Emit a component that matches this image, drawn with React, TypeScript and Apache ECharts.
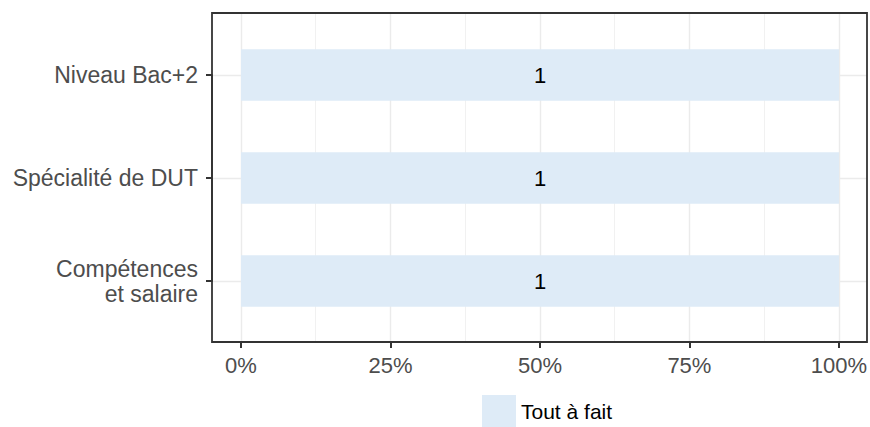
import React, { useEffect, useRef } from 'react';
import * as echarts from 'echarts';

// ---- data ----
const categories = ['Niveau Bac+2', 'Spécialité de DUT', 'Compétences\net salaire'];
const seriesName = 'Tout à fait';
const counts = [1, 1, 1];
const totals = [1, 1, 1];
const xTickValues = [0, 25, 50, 75, 100];

const percents = counts.map((c, i) => (c / totals[i]) * 100);

const FONT = 'Liberation Sans, Arial, sans-serif';
const W = 870;
const H = 427;

// panel (px)
const PANEL = { left: 212, right: 867, top: 13, bottom: 342 };
const DATA_X = { left: 241, right: 839 };
const CAT_STEP = 103;
const CAT_FIRST = 75;

export default function App() {
  const ref = useRef<HTMLDivElement>(null);

  useEffect(() => {
    if (!ref.current) return;
    const chart = echarts.init(ref.current, undefined, { renderer: 'svg' });
    const n = categories.length;
    const catLast = CAT_FIRST + CAT_STEP * (n - 1);
    const barTop = CAT_FIRST - CAT_STEP / 2;
    const barBottom = catLast + CAT_STEP / 2;

    const option: echarts.EChartsOption = {
      animation: false,
      backgroundColor: '#ffffff',
      textStyle: { fontFamily: FONT },
      grid: [
        // 0: panel border
        {
          left: PANEL.left,
          right: W - PANEL.right,
          top: PANEL.top,
          bottom: H - PANEL.bottom,
          show: true,
          borderColor: '#333333',
          borderWidth: 1.8,
          backgroundColor: 'transparent',
          z: 5,
        },
        // 1: horizontal gridlines + y labels
        {
          left: PANEL.left,
          right: W - PANEL.right,
          top: CAT_FIRST,
          bottom: H - catLast,
        },
        // 2: bars
        {
          left: DATA_X.left,
          right: W - DATA_X.right,
          top: barTop,
          bottom: H - barBottom,
        },
        // 3: vertical gridlines + x axis
        {
          left: DATA_X.left,
          right: W - DATA_X.right,
          top: PANEL.top,
          bottom: H - PANEL.bottom,
        },
      ],
      xAxis: [
        { gridIndex: 0, type: 'value', show: false, min: 0, max: 1 },
        { gridIndex: 1, type: 'value', show: false, min: 0, max: 1 },
        {
          gridIndex: 2,
          type: 'value',
          show: false,
          min: xTickValues[0],
          max: xTickValues[xTickValues.length - 1],
        },
        {
          gridIndex: 3,
          type: 'value',
          min: xTickValues[0],
          max: xTickValues[xTickValues.length - 1],
          interval: xTickValues[1] - xTickValues[0],
          axisLine: { show: false },
          axisTick: {
            show: true,
            length: 6,
            lineStyle: { color: '#333333', width: 2 },
          },
          axisLabel: {
            color: '#4D4D4D',
            fontSize: 22,
            fontFamily: FONT,
            margin: 12,
            formatter: (v: number) => `${v}%`,
          },
          splitLine: {
            show: true,
            lineStyle: { color: '#EBEBEB', width: 1.4 },
          },
          minorTick: { show: false, splitNumber: 2 },
          minorSplitLine: {
            show: true,
            lineStyle: { color: '#EBEBEB', width: 0.7 },
          },
        },
      ],
      yAxis: [
        { gridIndex: 0, type: 'value', show: false, min: 0, max: 1 },
        {
          gridIndex: 1,
          type: 'category',
          data: categories,
          inverse: true,
          boundaryGap: false,
          axisLine: {
            show: true,
            lineStyle: { color: '#333333', width: 1.8 },
          },
          axisTick: {
            show: true,
            length: 6,
            interval: 0,
            lineStyle: { color: '#333333', width: 2 },
          },
          axisLabel: {
            interval: 0,
            color: '#4D4D4D',
            fontSize: 23,
            fontFamily: FONT,
            margin: 14,
            lineHeight: 25,
            align: 'right',
          },
          splitLine: {
            show: true,
            interval: 0,
            lineStyle: { color: '#EBEBEB', width: 1.4 },
          },
        },
        {
          gridIndex: 2,
          type: 'category',
          data: categories,
          inverse: true,
          show: false,
        },
        { gridIndex: 3, type: 'value', show: false, min: 0, max: 1 },
      ],
      legend: {
        data: [seriesName],
        left: 482,
        top: 395,
        padding: 0,
        itemWidth: 34,
        itemHeight: 32,
        icon: 'rect',
        textStyle: { color: '#000000', fontSize: 21, fontFamily: FONT },
      },
      series: [
        {
          name: seriesName,
          type: 'bar',
          xAxisIndex: 2,
          yAxisIndex: 2,
          stack: 'total',
          barWidth: '50%',
          data: percents,
          itemStyle: { color: '#DEEBF7' },
          label: {
            show: true,
            position: 'inside',
            color: '#000000',
            fontSize: 22,
            fontFamily: FONT,
            formatter: (p: any) => String(counts[p.dataIndex]),
          },
        },
      ],
    };

    chart.setOption(option);
    return () => chart.dispose();
  }, []);

  return (
    <div
      ref={ref}
      style={{ position: 'fixed', left: 0, top: 0, width: W, height: H }}
    />
  );
}
